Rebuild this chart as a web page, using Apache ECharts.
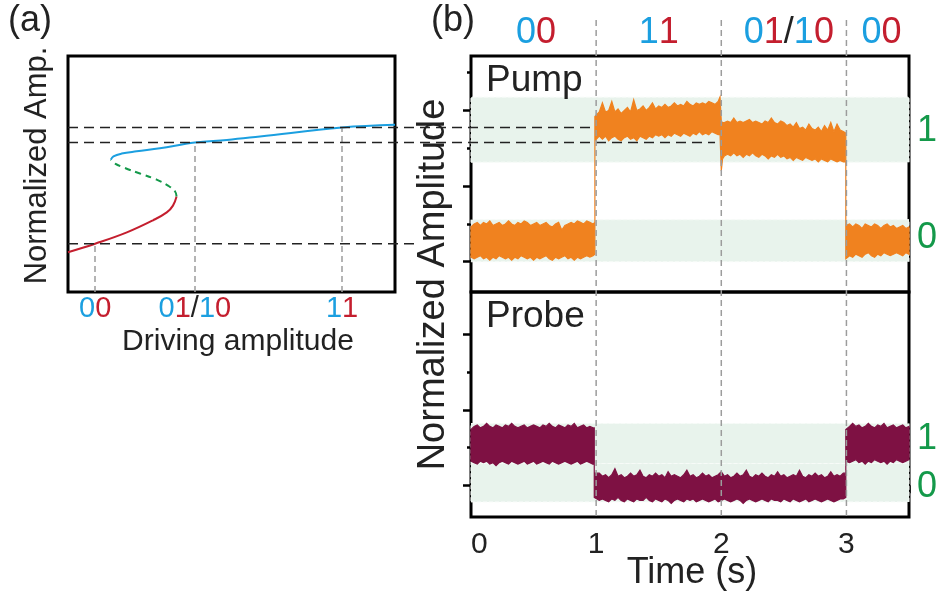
<!DOCTYPE html>
<html><head><meta charset="utf-8">
<script src="https://cdn.jsdelivr.net/npm/echarts@6/dist/echarts.min.js"></script>
<style>html,body{margin:0;padding:0;background:#fff}#c{width:941px;height:599px}</style>
</head><body><div id="c"></div>
<script>
const BLUE='#1b9fe0', RED='#c41e2e', GREEN='#14994a', ORANGE='#f0821f', MAROON='#7e1143', BAND='#e8f3ec', GRAY='#9c9c9c';
const FONT='"Liberation Sans", Arial, sans-serif';

// ---- Panel (a): bistable response curve ----
const redX   = [0, 0.83, 1.80, 2.60, 3.02, 3.21, 3.32];
const redY   = [0.063, 0.119, 0.194, 0.274, 0.326, 0.371, 0.432];
const greenX = [3.32, 3.27, 3.06, 2.71, 2.20, 1.74, 1.44, 1.31];
const greenY = [0.432, 0.466, 0.503, 0.543, 0.583, 0.620, 0.649, 0.675];
const blueX  = [1.31, 1.39, 1.64, 2.10, 2.81, 3.88, 4.86, 5.87, 8.38, 10];
const blueY  = [0.675, 0.697, 0.715, 0.730, 0.750, 0.788, 0.805, 0.828, 0.887, 0.905];
const guideX     = [0.83, 3.88, 8.38];
const guideLevel = [0.119, 0.788, 0.887];
const aLabelText = ['{b|0}{r|0}', '{b|0}{r|1}{k|/}{b|1}{r|0}', '{b|1}{r|1}'];

// ---- Panel (b): pump trace envelope (upper / lower edge of the noisy trace) ----
const pumpT = [
 0,0.025,0.05,0.075,0.1,0.125,0.15,0.175,0.2,0.225,0.25,0.275,0.3,0.325,0.35,0.375,0.4,0.425,0.45,0.475,0.5,0.525,0.55,0.575,0.6,0.625,0.65,0.675,0.7,0.725,0.75,0.775,0.8,0.825,0.85,0.875,0.9,0.925,0.95,0.975,0.99,
 0.99,1.025,1.05,1.075,1.1,1.125,1.15,1.175,1.2,1.225,1.25,1.275,1.3,1.325,1.35,1.375,1.4,1.425,1.45,1.475,1.5,1.525,1.55,1.575,1.6,1.625,1.65,1.675,1.7,1.725,1.75,1.775,1.8,1.825,1.85,1.875,1.9,1.925,1.95,1.975,1.99,
 2.0,2.01,2.025,2.05,2.075,2.1,2.125,2.15,2.175,2.2,2.225,2.25,2.275,2.3,2.325,2.35,2.375,2.4,2.425,2.45,2.475,2.5,2.525,2.55,2.575,2.6,2.625,2.65,2.675,2.7,2.725,2.75,2.775,2.8,2.825,2.85,2.875,2.9,2.925,2.95,2.975,2.995,
 2.995,3.025,3.05,3.075,3.1,3.125,3.15,3.175,3.2,3.225,3.25,3.275,3.3,3.325,3.35,3.375,3.4,3.425,3.45,3.475,3.5];
const pumpHi = [
 0.23,0.25,0.26,0.24,0.26,0.25,0.27,0.24,0.25,0.26,0.24,0.25,0.27,0.25,0.24,0.26,0.25,0.27,0.26,0.24,0.25,0.26,0.24,0.25,0.26,0.24,0.23,0.25,0.26,0.21,0.24,0.25,0.26,0.25,0.27,0.26,0.25,0.27,0.26,0.25,0.26,
 0.96,0.99,1.05,0.99,1.00,1.06,0.99,1.01,0.98,1.00,1.02,0.99,1.07,1.00,1.01,1.03,1.00,1.02,1.05,1.01,1.03,1.02,1.04,1.02,1.03,1.05,1.03,1.04,1.03,1.06,1.04,1.03,1.05,1.04,1.05,1.04,1.06,1.05,1.04,1.06,1.09,
 0.93,0.92,0.92,0.93,0.92,0.95,0.92,0.93,0.92,0.93,0.94,0.92,0.93,0.92,0.91,0.93,0.92,0.95,0.92,0.91,0.93,0.92,0.90,0.91,0.89,0.92,0.88,0.89,0.87,0.91,0.88,0.87,0.89,0.86,0.90,0.87,0.92,0.86,0.91,0.87,0.86,0.85,
 0.24,0.25,0.23,0.25,0.24,0.22,0.25,0.24,0.23,0.25,0.24,0.22,0.24,0.25,0.23,0.24,0.22,0.23,0.24,0.22,0.23];
const pumpLo = [
 0.03,0.02,0.03,0.04,0.02,0.03,0.01,0.03,0.02,0.04,0.03,0.02,0.03,0.01,0.03,0.02,0.04,0.03,0.02,0.03,0.01,0.03,0.02,0.03,0.04,0.02,0.01,0.03,0.02,0.03,0.04,0.02,0.03,0.01,0.03,0.02,0.03,0.04,0.03,0.04,0.05,
 0.80,0.83,0.81,0.83,0.80,0.82,0.83,0.81,0.80,0.82,0.83,0.81,0.82,0.80,0.83,0.82,0.81,0.83,0.82,0.84,0.83,0.84,0.82,0.84,0.83,0.85,0.84,0.83,0.85,0.84,0.83,0.85,0.84,0.86,0.84,0.85,0.84,0.86,0.85,0.84,0.84,
 0.60,0.68,0.70,0.71,0.70,0.72,0.70,0.71,0.69,0.71,0.70,0.72,0.70,0.69,0.71,0.70,0.68,0.70,0.69,0.71,0.69,0.70,0.68,0.69,0.67,0.69,0.68,0.67,0.69,0.68,0.67,0.68,0.66,0.68,0.67,0.66,0.68,0.67,0.66,0.67,0.66,0.66,
 0.02,0.04,0.03,0.05,0.04,0.03,0.05,0.06,0.04,0.03,0.05,0.04,0.06,0.05,0.04,0.05,0.06,0.05,0.04,0.06,0.05];

// ---- Panel (b): probe trace envelope ----
const probeT = [
 0,0.025,0.05,0.075,0.1,0.125,0.15,0.175,0.2,0.225,0.25,0.275,0.3,0.325,0.35,0.375,0.4,0.425,0.45,0.475,0.5,0.525,0.55,0.575,0.6,0.625,0.65,0.675,0.7,0.725,0.75,0.775,0.8,0.825,0.85,0.875,0.9,0.925,0.95,0.975,0.985,
 0.985,1.025,1.05,1.075,1.1,1.125,1.15,1.175,1.2,1.225,1.25,1.275,1.3,1.325,1.35,1.375,1.4,1.425,1.45,1.475,1.5,1.525,1.55,1.575,1.6,1.625,1.65,1.675,1.7,1.725,1.75,1.775,1.8,1.825,1.85,1.875,1.9,1.925,1.95,1.975,
 2.0,2.025,2.05,2.075,2.1,2.125,2.15,2.175,2.2,2.225,2.25,2.275,2.3,2.325,2.35,2.375,2.4,2.425,2.45,2.475,2.5,2.525,2.55,2.575,2.6,2.625,2.65,2.675,2.7,2.725,2.75,2.775,2.8,2.825,2.85,2.875,2.9,2.925,2.95,2.975,2.995,
 2.995,3.025,3.05,3.075,3.1,3.125,3.15,3.175,3.2,3.225,3.25,3.275,3.3,3.325,3.35,3.375,3.4,3.425,3.45,3.475,3.5];
const probeHi = [
 0.37,0.39,0.40,0.38,0.39,0.41,0.39,0.38,0.40,0.39,0.38,0.40,0.39,0.41,0.39,0.38,0.39,0.40,0.38,0.39,0.40,0.39,0.38,0.40,0.39,0.41,0.39,0.38,0.40,0.39,0.38,0.40,0.39,0.41,0.38,0.39,0.40,0.38,0.39,0.38,0.38,
 0.08,
 0.08,0.06,0.07,0.05,0.07,0.11,0.06,0.07,0.05,0.06,0.08,0.06,0.07,0.10,0.06,0.05,0.07,0.06,0.08,0.06,
 0.07,0.05,0.09,0.06,0.07,0.06,0.05,0.07,0.10,0.06,0.07,0.05,0.06,0.08,0.06,0.07,0.05,0.06,0.07,0.09,
 0.06,0.07,0.05,0.06,0.08,0.06,0.07,0.10,0.06,0.05,0.07,0.06,0.08,0.06,0.05,0.07,0.06,0.09,0.06,0.07,
 0.05,0.06,0.07,0.06,0.10,0.06,0.05,0.07,0.06,0.08,0.06,0.07,0.05,0.06,0.09,0.06,0.07,0.06,0.08,
 0.08,
 0.37,0.39,0.41,0.39,0.40,0.38,0.39,0.41,0.39,0.38,0.40,0.39,0.41,0.38,0.39,0.40,0.38,0.39,0.40,0.38,0.39];
const probeLo = [
 0.16,0.15,0.14,0.16,0.15,0.16,0.14,0.15,0.13,0.15,0.16,0.15,0.14,0.16,0.15,0.14,0.15,0.16,0.14,0.15,0.16,0.14,0.15,0.16,0.15,0.14,0.16,0.15,0.14,0.15,0.16,0.15,0.14,0.15,0.16,0.14,0.15,0.16,0.15,0.14,0.15,
 -0.08,
 -0.10,-0.09,-0.10,-0.11,-0.09,-0.10,-0.08,-0.10,-0.11,-0.09,-0.10,-0.11,-0.09,-0.10,-0.10,-0.08,-0.10,-0.11,-0.09,-0.10,
 -0.11,-0.09,-0.10,-0.12,-0.10,-0.09,-0.10,-0.11,-0.09,-0.10,-0.09,-0.11,-0.10,-0.09,-0.10,-0.11,-0.10,-0.09,-0.11,-0.10,
 -0.09,-0.10,-0.11,-0.10,-0.09,-0.10,-0.12,-0.10,-0.09,-0.10,-0.11,-0.10,-0.09,-0.10,-0.11,-0.09,-0.10,-0.10,-0.11,-0.09,
 -0.10,-0.11,-0.09,-0.10,-0.11,-0.10,-0.09,-0.11,-0.10,-0.09,-0.10,-0.11,-0.10,-0.09,-0.10,-0.11,-0.10,-0.09,-0.09,
 -0.08,
 0.16,0.15,0.16,0.17,0.15,0.16,0.14,0.16,0.15,0.17,0.16,0.15,0.16,0.14,0.16,0.15,0.17,0.16,0.15,0.16,0.17];

// state bands (logical 0 / 1) and labels
const pumpBands  = [[0.658, 1.088], [0, 0.278]];
const probeBands = [[0.144, 0.409], [-0.11, 0.144]];
const pumpStateY  = [0.861, 0.156];
const probeStateY = [0.305, -0.01];
const stateText   = ['1', '0'];
const topLabelT    = [0.52, 1.5, 2.54, 3.28];
const topLabelText = ['{b|0}{r|0}', '{b|1}{r|1}', '{b|0}{r|1}{k|/}{b|1}{r|0}', '{b|0}{r|0}'];
const timeMajor = [0, 1, 2, 3, 3.5];
const timeMinor = [0.5, 1.5, 2.5];
const timeLabels = [0, 1, 2, 3];
const ampMajor = [0, 0.5, 1];
const pumpMinor = [0.25, 0.75, 1.25];
const probeMinor = [0.25, 0.75];
const switchT = [1, 2, 3];
// dashed reference levels: [level, end axis ('a' or 'b'), end value]
const refLevels = [[0.887, 'b', 0.99], [0.788, 'b', 1.95], [0.119, 'a', 10.7]];

const P_MIN=-0.2, P_MAX=1.36, Q_MIN=-0.21, Q_MAX=1.28;

function pick(vals, texts){ return v => { let k=0, d=1e9; vals.forEach((x,i)=>{ if(Math.abs(x-v)<d){d=Math.abs(x-v);k=i;} }); return texts[k]; }; }
function rich(fs){ const s=c=>({color:c,fontSize:fs,fontFamily:FONT,lineHeight:fs}); return {b:s(BLUE), r:s(RED), k:s('#222')}; }
function envelope(T, HI, LO, color){
  return function(params, api){
    const pts=[];
    for(let i=0;i<T.length;i++) pts.push(api.coord([T[i],HI[i]]));
    for(let i=T.length-1;i>=0;i--) pts.push(api.coord([T[i],LO[i]]));
    return {type:'polygon', shape:{points:pts}, style:{fill:color, stroke:color, lineWidth:1.2, lineJoin:'miter'}};
  };
}
const hidden = {axisLine:{show:false}, axisTick:{show:false}, axisLabel:{show:false}, splitLine:{show:false}};
const gridBase = {show:true, borderColor:'#000', borderWidth:3, backgroundColor:'transparent', containLabel:false, outerBoundsMode:'none'};
const tick = (vals,len)=>({show:true, customValues:vals, length:len, inside:false, lineStyle:{color:'#000', width:2.5}});

const option = {
  animation:false,
  grid:[
    Object.assign({left:68, top:56, width:327, height:236}, gridBase),
    Object.assign({left:471, top:56, width:438, height:236}, gridBase),
    Object.assign({left:471, top:292, width:438, height:225}, gridBase)
  ],
  xAxis:[
    Object.assign({gridIndex:0, type:'value', min:0, max:10}, hidden, {axisLabel:{show:true, customValues:guideX, formatter:pick(guideX,aLabelText), margin:2, rich:rich(29)}}),
    Object.assign({gridIndex:1, type:'value', min:0, max:3.5, position:'bottom'}, hidden),
    Object.assign({gridIndex:1, type:'value', min:0, max:3.5, position:'top'}, hidden, {axisLabel:{show:true, customValues:topLabelT, formatter:pick(topLabelT,topLabelText), margin:5, rich:rich(36)}}),
    Object.assign({gridIndex:2, type:'value', min:0, max:3.5, position:'bottom'}, hidden, {axisTick:tick(timeMajor,8), axisLabel:{show:true, customValues:timeLabels, alignMinLabel:'left', margin:13, color:'#222', fontSize:30, fontFamily:FONT, formatter:v=>String(v)}}),
    Object.assign({gridIndex:2, type:'value', min:0, max:3.5, position:'bottom', offset:0}, hidden, {axisTick:tick(timeMinor,5)})
  ],
  yAxis:[
    Object.assign({gridIndex:0, type:'value', min:P_MIN, max:P_MAX}, hidden),
    Object.assign({gridIndex:1, type:'value', min:P_MIN, max:P_MAX, position:'left'}, hidden, {axisTick:tick(ampMajor,8)}),
    Object.assign({gridIndex:1, type:'value', min:P_MIN, max:P_MAX, position:'left', offset:0}, hidden, {axisTick:tick(pumpMinor,4)}),
    Object.assign({gridIndex:1, type:'value', min:P_MIN, max:P_MAX, position:'right', offset:0}, hidden, {axisLabel:{show:true, customValues:pumpStateY, formatter:pick(pumpStateY,stateText), color:GREEN, fontSize:36, fontFamily:FONT, margin:8}}),
    Object.assign({gridIndex:2, type:'value', min:Q_MIN, max:Q_MAX, position:'left'}, hidden, {axisTick:tick(ampMajor,8)}),
    Object.assign({gridIndex:2, type:'value', min:Q_MIN, max:Q_MAX, position:'left', offset:0}, hidden, {axisTick:tick(probeMinor,4)}),
    Object.assign({gridIndex:2, type:'value', min:Q_MIN, max:Q_MAX, position:'right', offset:0}, hidden, {axisLabel:{show:true, customValues:probeStateY, formatter:pick(probeStateY,stateText), color:GREEN, fontSize:36, fontFamily:FONT, margin:8}})
  ],
  series:[
    {type:'line', xAxisIndex:0, yAxisIndex:0, data:redX.map((x,i)=>[x,redY[i]]), smooth:0.4, showSymbol:false, lineStyle:{color:RED, width:2}, z:3,
     markLine:{silent:true, symbol:'none', label:{show:false}, lineStyle:{color:GRAY, type:[6,4], width:1.5},
       data: guideX.map((x,i)=>[{coord:[x,P_MIN]},{coord:[x,guideLevel[i]]}])}},
    {type:'line', xAxisIndex:0, yAxisIndex:0, data:greenX.map((x,i)=>[x,greenY[i]]), smooth:0.4, showSymbol:false, lineStyle:{color:GREEN, width:2, type:[6,5]}, z:3},
    {type:'line', xAxisIndex:0, yAxisIndex:0, data:blueX.map((x,i)=>[x,blueY[i]]), smooth:0.4, showSymbol:false, lineStyle:{color:BLUE, width:2}, z:3},
    {type:'line', xAxisIndex:1, yAxisIndex:1, data:[], z:1,
     markArea:{silent:true, itemStyle:{color:BAND, borderColor:'#f7fbf8', borderWidth:1, borderType:'dashed'}, data: pumpBands.map(b=>[{yAxis:b[0]},{yAxis:b[1]}])}},
    {type:'custom', xAxisIndex:1, yAxisIndex:1, data:[[0,0]], renderItem:envelope(pumpT,pumpHi,pumpLo,ORANGE), z:3},
    {type:'line', xAxisIndex:3, yAxisIndex:4, data:[], z:1,
     markArea:{silent:true, itemStyle:{color:BAND, borderColor:'#f7fbf8', borderWidth:1, borderType:'dashed'}, data: probeBands.map(b=>[{yAxis:b[0]},{yAxis:b[1]}])}},
    {type:'custom', xAxisIndex:3, yAxisIndex:4, data:[[0,0]], renderItem:envelope(probeT,probeHi,probeLo,MAROON), z:3}
  ]
};
const chart = echarts.init(document.getElementById('c'), null, {renderer:'canvas'});
chart.setOption(option);

const px = (ax,v)=>chart.convertToPixel({xAxisIndex:ax}, v);
const py = (ax,v)=>chart.convertToPixel({yAxisIndex:ax}, v);
const g = [];
refLevels.forEach(r=>{
  const y = py(1, r[0]);
  const x1 = px(0, 0);
  const x2 = r[1]==='b' ? px(1, r[2]) : px(0, r[2]);
  g.push({type:'line', z:50, shape:{x1:x1, y1:y, x2:x2, y2:y}, style:{stroke:'#222', lineWidth:1.5, lineDash:[10,6]}});
});
switchT.forEach(t=>{
  const x = px(3, t);
  g.push({type:'line', z:50, shape:{x1:x, y1:20, x2:x, y2:py(4, Q_MIN)}, style:{stroke:GRAY, lineWidth:1.5, lineDash:[6,4]}});
});
const txt = (s,x,y,fs,opts)=>Object.assign({type:'text', z:60, x:x, y:y, style:{text:s, fontSize:fs, fontFamily:FONT, fill:'#222', align:'left', verticalAlign:'middle'}}, opts||{});
g.push(txt('(a)', 8, 21, 36));
g.push(txt('(b)', 431, 21, 36));
g.push(txt('Pump', 486, 80.5, 37));
g.push(txt('Probe', 486, 317, 37));
const c1 = txt('Normalized Amplitude', 434, 284.5, 38, {rotation:Math.PI/2}); c1.style.align='center'; g.push(c1);
const c2 = txt('Normalized Amp.', 37, 165.5, 31, {rotation:Math.PI/2}); c2.style.align='center'; g.push(c2);
const c3 = txt('Driving amplitude', 238, 341.5, 30); c3.style.align='center'; g.push(c3);
const c4 = txt('Time (s)', 692, 573.5, 36); c4.style.align='center'; g.push(c4);
chart.setOption({graphic:g});
</script></body></html>
